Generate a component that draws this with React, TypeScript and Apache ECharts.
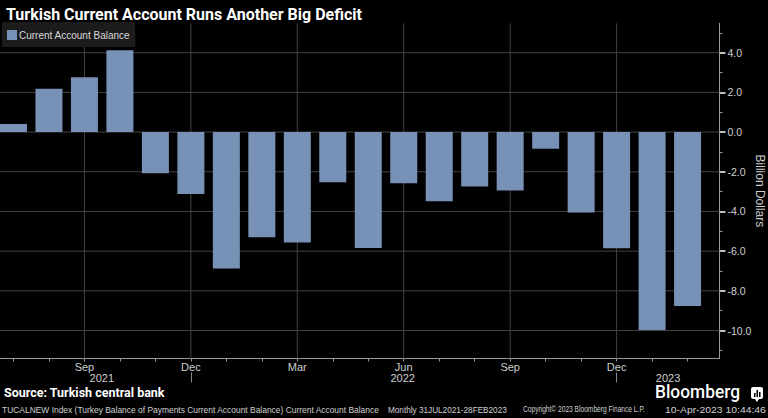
import React, { useEffect, useRef } from "react";
import * as echarts from "echarts";

const months = [
  "Jul 2021", "Aug 2021", "Sep 2021", "Oct 2021", "Nov 2021", "Dec 2021",
  "Jan 2022", "Feb 2022", "Mar 2022", "Apr 2022", "May 2022", "Jun 2022",
  "Jul 2022", "Aug 2022", "Sep 2022", "Oct 2022", "Nov 2022", "Dec 2022",
  "Jan 2023", "Feb 2023",
];
const balance = [
  0.4, 2.18, 2.76, 4.12, -2.08, -3.12,
  -6.87, -5.3, -5.56, -2.53, -5.84, -2.58,
  -3.49, -2.74, -2.94, -0.84, -4.05, -5.86,
  -9.97, -8.77,
];
const labeledMonthIdx = [2, 5, 8, 11, 14, 17];
const monthLabels = ["Sep", "Dec", "Mar", "Jun", "Sep", "Dec"];
const yearLabelPos = [2.49, 10.97, 18.45];
const yearLabels = ["2021", "2022", "2023"];
const yearSeparators = [5, 17];
const yMajorTicks = [-10, -8, -6, -4, -2, 0, 2, 4];
const yMinorTicks = [-11, -9, -7, -5, -3, -1, 1, 3, 5];

const X_MIN = -0.38;
const X_MAX = 19.9;
const Y_MIN = -11.41;
const Y_MAX = 5.48;

const FONT = "'Liberation Sans', Arial, sans-serif";
const TXT = "#cfcfcf";
const GRID_STYLE = { color: "#424242", width: 1, type: "solid" };

function fitScale(text: string, font: string, target: number): number {
  const c = document.createElement("canvas").getContext("2d");
  if (!c) return 1;
  c.font = font;
  const w = c.measureText(text).width;
  return w > 0 ? target / w : 1;
}

function fittedText(text: string, font: string, x: number, y: number, width: number, fill: string) {
  return {
    type: "text",
    x,
    y,
    scaleX: fitScale(text, font, width),
    style: { text, font, fill, verticalAlign: "top", align: "left" },
  };
}

export default function App() {
  const ref = useRef<HTMLDivElement>(null);
  useEffect(() => {
    if (!ref.current) return;
    const chart = echarts.init(ref.current, null, { renderer: "svg" });
    const monthIdx = months.map((_, i) => i);
    const hiddenX = {
      type: "value",
      min: X_MIN,
      max: X_MAX,
      position: "bottom",
      axisLine: { show: false, onZero: false },
      axisTick: { show: false },
      axisLabel: { show: false },
      splitLine: { show: false },
    };
    const hSeries = yMajorTicks.map((v, k) => ({
      name: "hgrid" + k,
      type: "line",
      data: [[X_MIN, v], [X_MAX, v]],
      symbol: "none",
      silent: true,
      z: 1,
      lineStyle: GRID_STYLE,
    }));
    const vSeries = labeledMonthIdx.map((i, k) => ({
      name: "vgrid" + k,
      type: "line",
      data: [[i, Y_MIN], [i, Y_MAX]],
      symbol: "none",
      silent: true,
      z: 1,
      lineStyle: GRID_STYLE,
    }));
    const footFont = "9px 'Liberation Sans', Arial, sans-serif";
    chart.setOption({
      animation: false,
      backgroundColor: "#000000",
      textStyle: { fontFamily: FONT },
      title: {
        text: "Turkish Current Account Runs Another Big Deficit",
        left: 1,
        top: 1,
        textStyle: { color: "#ffffff", fontSize: 16, fontWeight: "bold", fontFamily: "Roboto, sans-serif" },
      },
      legend: {
        data: ["Current Account Balance"],
        left: 2,
        top: 22,
        padding: [8, 5, 7, 5],
        backgroundColor: "#1c1c1c",
        itemWidth: 10,
        itemHeight: 10,
        icon: "rect",
        textStyle: { color: "#d8d8d8", fontSize: 10, padding: [0, 0, 0, -3] },
      },
      grid: { left: 0, right: 48.5, top: 23.3, bottom: 59.5, containLabel: false, outerBoundsMode: "none" },
      xAxis: [
        {
          type: "value",
          min: X_MIN,
          max: X_MAX,
          position: "bottom",
          axisLine: { show: true, onZero: false, lineStyle: { color: "#9a9a9a", width: 1 } },
          axisTick: { show: true, customValues: monthIdx, length: 3, lineStyle: { color: "#9a9a9a" } },
          axisLabel: {
            show: true,
            customValues: labeledMonthIdx,
            margin: 3,
            color: TXT,
            fontSize: 11,
            formatter: (v: number) => monthLabels[labeledMonthIdx.indexOf(Math.round(v))] ?? "",
          },
          splitLine: { show: false },
        },
        {
          ...hiddenX,
          axisLabel: {
            show: true,
            customValues: yearLabelPos,
            margin: 14,
            color: TXT,
            fontSize: 11,
            formatter: (v: number) => {
              const k = yearLabelPos.findIndex((p) => Math.abs(p - v) < 0.01);
              return k >= 0 ? yearLabels[k] : "";
            },
          },
        },
        {
          ...hiddenX,
          offset: 14,
          axisTick: { show: true, customValues: yearSeparators, length: 10, lineStyle: { color: "#8a8a8a" } },
        },
      ],
      yAxis: [
        {
          type: "value",
          min: Y_MIN,
          max: Y_MAX,
          position: "right",
          name: "Billion Dollars",
          nameLocation: "middle",
          nameRotate: -90,
          nameGap: 34,
          nameMoveOverlap: false,
          nameTextStyle: { color: TXT, fontSize: 12 },
          axisLine: { show: true, onZero: false, lineStyle: { color: "#9a9a9a", width: 1 } },
          axisTick: { show: true, customValues: yMajorTicks, length: 6, lineStyle: { color: "#bdbdbd", width: 2 } },
          axisLabel: {
            show: true,
            customValues: yMajorTicks,
            margin: 8,
            color: TXT,
            fontSize: 10.5,
            formatter: (v: number) => v.toFixed(1),
          },
          splitLine: { show: false },
        },
        {
          type: "value",
          min: Y_MIN,
          max: Y_MAX,
          position: "right",
          axisLine: { show: false, onZero: false },
          axisTick: { show: true, customValues: yMinorTicks, length: 3, lineStyle: { color: "#9a9a9a" } },
          axisLabel: { show: false },
          splitLine: { show: false },
        },
      ],
      series: [
        ...hSeries,
        ...vSeries,
        {
          name: "Current Account Balance",
          type: "bar",
          barWidth: 27,
          itemStyle: { color: "#7891b6" },
          data: balance.map((v, i) => [i, v]),
          z: 3,
        },
      ],
      graphic: [
        {
          type: "text",
          left: 4,
          top: 386,
          style: { text: "Source: Turkish central bank", fill: "#ffffff", font: "bold 12.5px Roboto, sans-serif" },
        },
        fittedText(
          "TUCALNEW Index (Turkey Balance of Payments Current Account Balance) Current Account Balance",
          footFont, 2, 405, 378, "#d0d0d0"
        ),
        fittedText("Monthly 31JUL2021-28FEB2023", footFont, 388, 405, 119, "#d0d0d0"),
        fittedText("Copyright\u00a9 2023 Bloomberg Finance L.P.", footFont, 523, 405, 122, "#d0d0d0"),
        fittedText("10-Apr-2023 10:44:46", footFont, 665, 405, 101, "#d0d0d0"),
        fittedText("Bloomberg", "500 19px Roboto, sans-serif", 655, 382, 85, "#ffffff"),
        {
          type: "group",
          x: 751,
          y: 387,
          children: [
            { type: "rect", shape: { x: 0, y: 0, width: 12, height: 12, r: 2 }, style: { fill: "#ffffff" } },
            { type: "polygon", shape: { points: [[4, 12], [8, 12], [6, 15]] }, style: { fill: "#ffffff" } },
            { type: "rect", shape: { x: 3, y: 6, width: 1.5, height: 4 }, style: { fill: "#000000" } },
            { type: "rect", shape: { x: 5.5, y: 3, width: 1.5, height: 7 }, style: { fill: "#000000" } },
            { type: "rect", shape: { x: 8, y: 5, width: 1.5, height: 5 }, style: { fill: "#000000" } },
          ],
        },
      ],
    });
    return () => chart.dispose();
  }, []);
  return (
    <div
      ref={ref}
      style={{ position: "fixed", left: 0, top: 0, width: 768, height: 418 }}
    />
  );
}
